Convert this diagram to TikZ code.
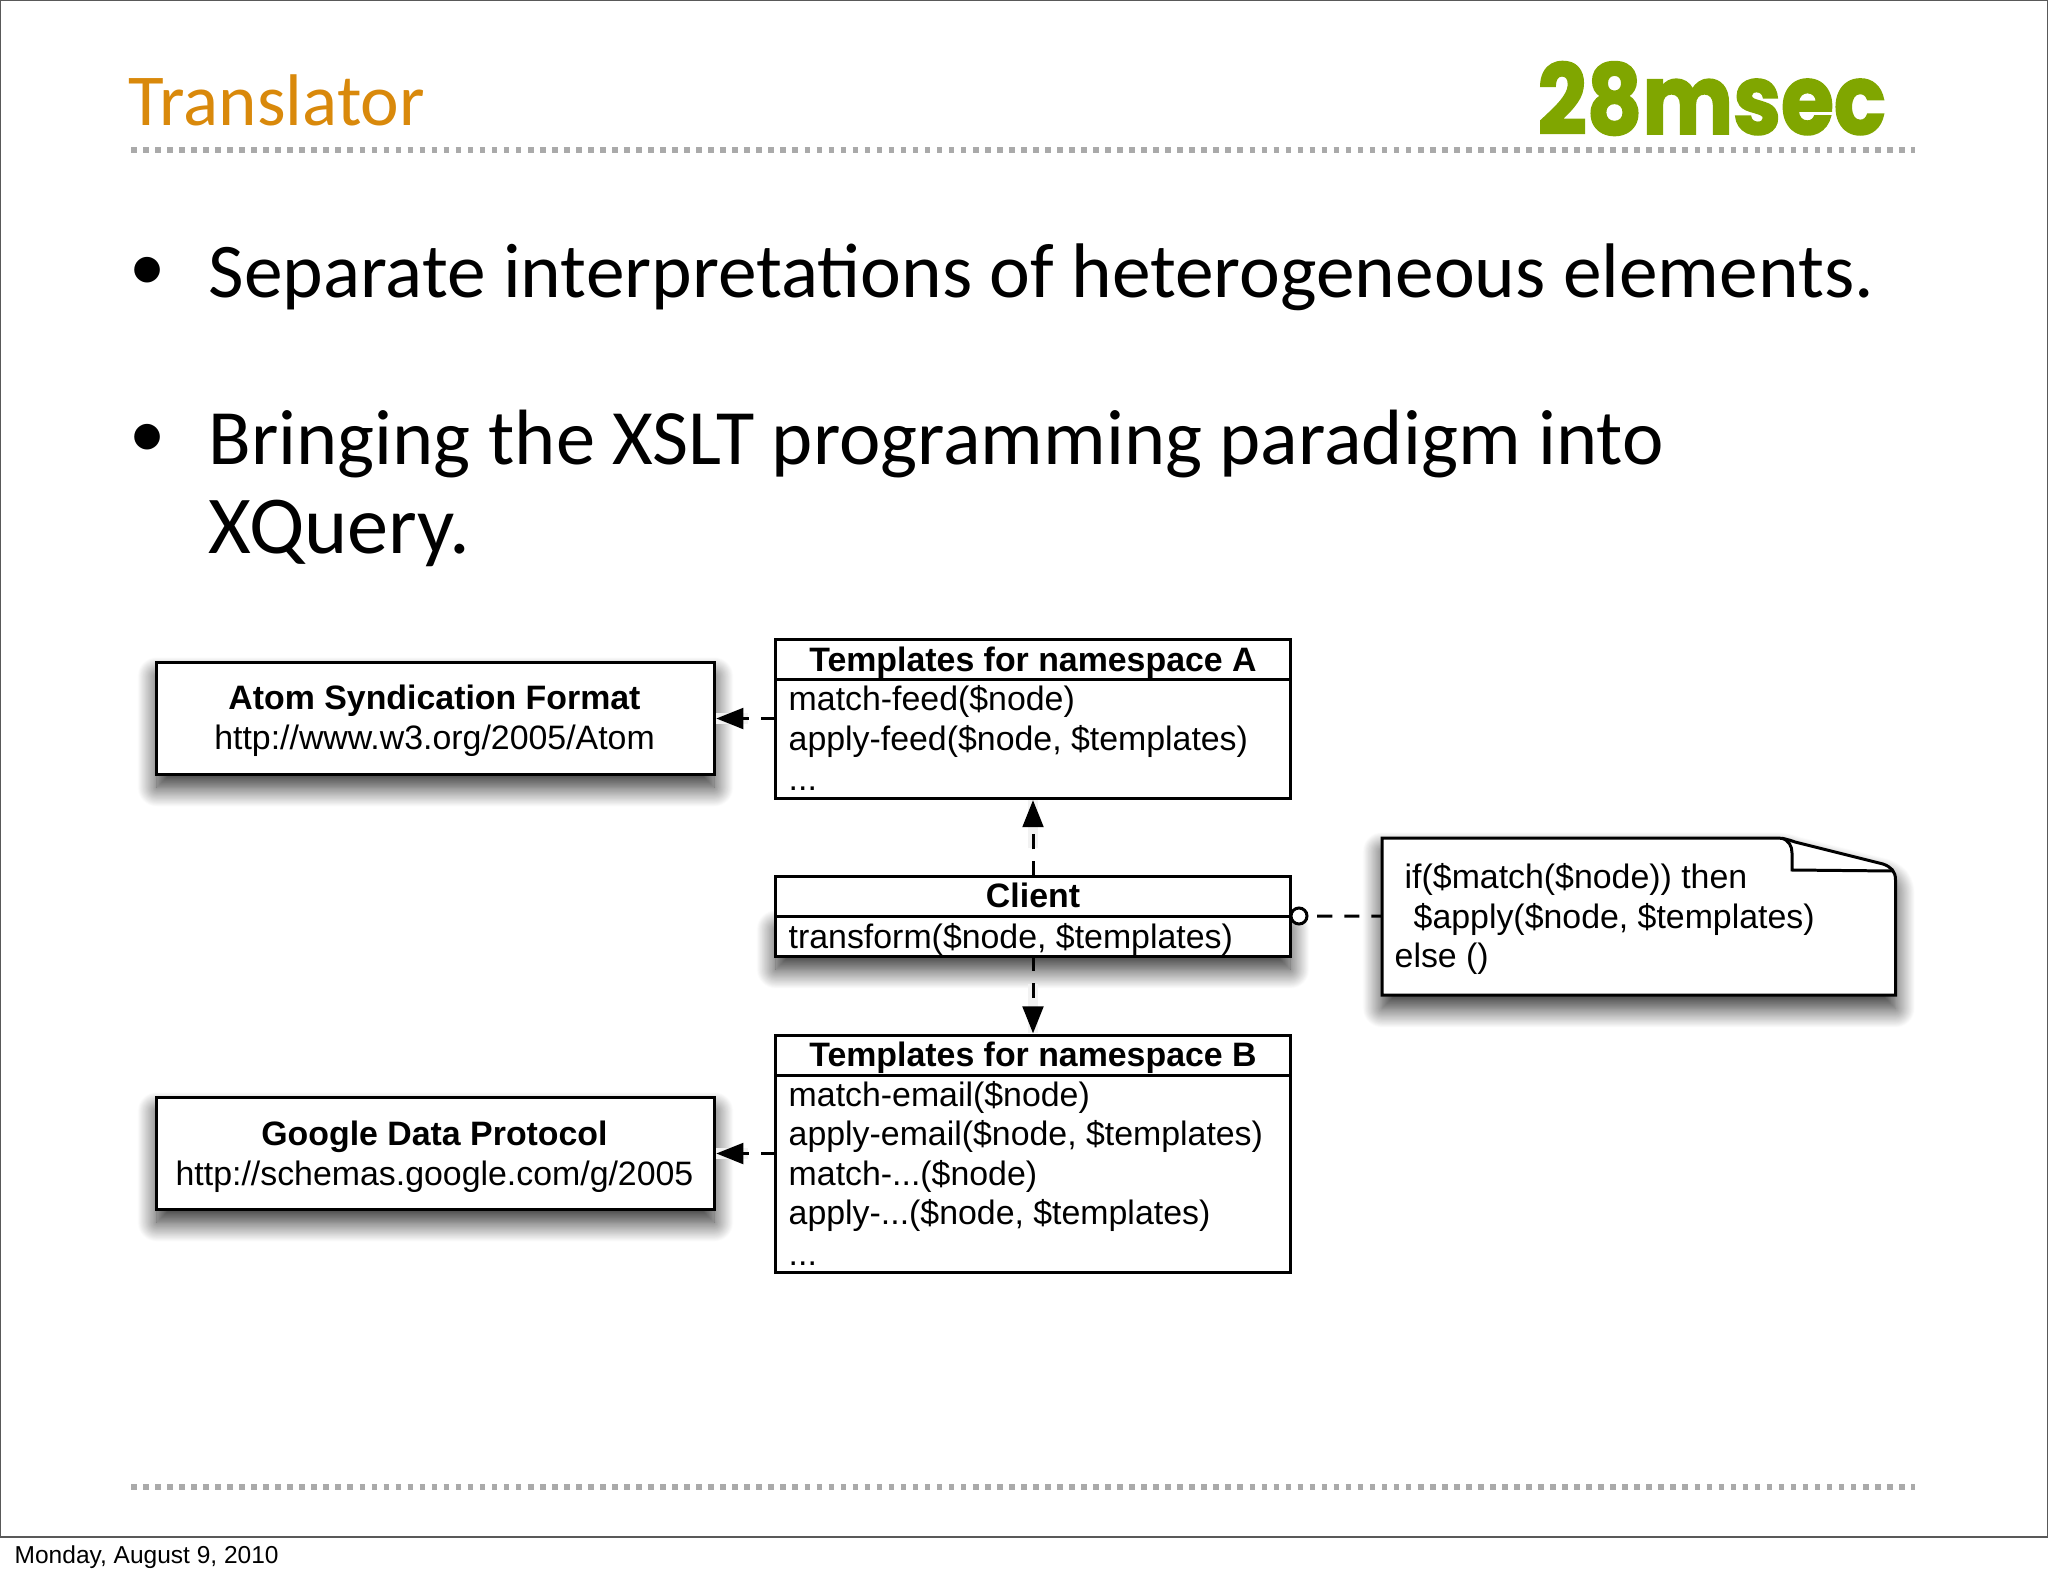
\documentclass[tikz,border=0pt]{standalone}
\usepackage{fontspec}
\setmainfont{Carlito}
\newfontfamily\helv{Liberation Sans}
\newfontfamily\logofont{Poppins}[FakeBold=2]
\usetikzlibrary{shapes,arrows.meta,positioning,shadows.blur}
\definecolor{titleorange}{RGB}{217,137,11}
\definecolor{logogreen}{RGB}{128,166,0}
\definecolor{dotgray}{RGB}{170,170,170}
\newcommand{\diagfont}{\helv\fontsize{9.63}{11.4}\selectfont}
\tikzstyle{softshadow} = [blur shadow={shadow xshift=0pt, shadow yshift=-3.8pt, shadow blur radius=5.5pt, shadow blur steps=25, shadow opacity=85}]
\tikzstyle{ubox} = [rectangle, draw, fill=white, line width=.85pt, inner sep=0pt, outer sep=0pt, minimum width=5.14cm, font=\diagfont]
\tikzstyle{uhead} = [ubox, minimum height=.395cm, font=\diagfont\bfseries, text height=7.5pt, text depth=1.1pt]
\tikzstyle{ubody} = [ubox]
\tikzstyle{sbox} = [ubox, softshadow, minimum width=5.57cm, minimum height=1.11cm]
\tikzstyle{uline} = [anchor=base west, inner sep=0pt, font=\diagfont]
\tikzstyle{cline} = [uline, anchor=base]
\tikzstyle{bullettext} = [anchor=base west, inner sep=0pt, font=\fontsize{22}{26}\selectfont]
\tikzstyle{bulletdot} = [anchor=base west, inner sep=0pt, font=\fontsize{20.6}{24}\selectfont]
\tikzstyle{dotrule} = [draw=dotgray, line width=1.6pt, dash pattern=on 1.6pt off 1.82pt]
\tikzstyle{dep} = [draw, line width=.85pt, dash pattern=on 4.3pt off 3.4pt]
\tikzstyle{deptip} = [dep, shorten >=.6pt, -{Triangle[length=7.7pt,width=5.9pt,color=black,fill=black]},
	preaction={draw=black!5, line width=3pt, solid, shorten <=8pt, -}]

\begin{document}
\begin{tikzpicture}[x=0.01cm, y=-0.01cm]
	\useasboundingbox (0,0) rectangle (2048,1576);
	\path [draw=black!65, line width=.4pt] (0.5,0.5) rectangle (2047.5,1537);

	% heading
	\node [anchor=base west, inner sep=0pt, text=titleorange, font=\fontsize{20.8}{24}\selectfont] (title) at (128,126) {Translator};
	\node [anchor=base west, inner sep=0pt, text=logogreen, font=\logofont\bfseries\fontsize{24.4}{28}\selectfont] (logo) at (1537,134) {\scalebox{1}[1.13]{28msec}};
	\coordinate (rule1a) at (131,150);
	\coordinate (rule1b) at (1915,150);
	\coordinate (rule2a) at (131,1487);
	\coordinate (rule2b) at (1915,1487);
	\path [dotrule] (rule1a) -- (rule1b);
	\path [dotrule] (rule2a) -- (rule2b);

	% bullets
	\node [bulletdot] (dot1) at (129,291) {•};
	\node [bulletdot] (dot2) at (129,457) {•};
	\node [bullettext] (text1) at (208,297.5) {Separate interpretations of heterogeneous elements.};
	\node [bullettext, font=\fontsize{22.3}{26}\selectfont] (text2) at (208,464.5) {Bringing the XSLT programming paradigm into};
	\node [bullettext, font=\fontsize{23.4}{26}\selectfont] (text3) at (208,553.5) {XQuery.};

	% boxes
	\node [sbox] (atom) at (435.5,718.5) {};
	\node [sbox] (google) at (435.5,1153.5) {};
	\node [cline, font=\diagfont\bfseries] (atom1) at (434.5,709) {Atom Syndication Format};
	\node [cline] (atom2) at (434.5,749) {http://www.w3.org/2005/Atom};
	\node [cline, font=\diagfont\bfseries] (google1) at (434.5,1145) {Google Data Protocol};
	\node [cline] (google2) at (434.5,1185) {http://schemas.google.com/g/2005};

	\node [ubody, minimum height=1.19cm] (abody) at (1033,738.5) {};
	\node [uhead] (ahead) at (1033,659.75) {Templates for namespace A};
	\node [ubody, softshadow, minimum height=.40cm] (cbody) at (1033,936) {};
	\node [uhead] (chead) at (1033,896.25) {Client};
	\node [ubody, minimum height=1.96cm] (bbody) at (1033,1174) {};
	\node [uhead] (bhead) at (1033,1055.25) {Templates for namespace B};

	% note
	\path [draw, fill=white, line width=.85pt, softshadow] (1382,838) -- (1775,838)
		.. controls (1782,838) and (1787,839) .. (1795,842) -- (1883,864)
		.. controls (1891,867) and (1895.5,871) .. (1895.5,880) -- (1895.5,995) -- (1382,995) -- cycle;
	\path [draw, line width=.85pt] (1782,838) .. controls (1789,841) and (1792,846) .. (1792,853) -- (1792,870) -- (1893,871);
	\coordinate (notewest) at (1382,916);

	% box text
	\node [uline] (a1) at (788,710) {match-feed(\$node)};
	\node [uline] (a2) at (788,750) {apply-feed(\$node, \$templates)};
	\node [uline] (a3) at (788,790) {...};
	\node [uline] (c1) at (788,948) {transform(\$node, \$templates)};
	\node [uline] (b1) at (788,1106) {match-email(\$node)};
	\node [uline] (b2) at (788,1145) {apply-email(\$node, \$templates)};
	\node [uline] (b3) at (788,1185) {match-...(\$node)};
	\node [uline] (b4) at (788,1224) {apply-...(\$node, \$templates)};
	\node [uline] (b5) at (788,1265) {...};
	\node [uline] (n1) at (1404,888) {if(\$match(\$node)) then};
	\node [uline] (n2) at (1413,928) {\$apply(\$node, \$templates)};
	\node [uline] (n3) at (1394,967) {else ()};

	% connectors
	\path [deptip] (abody.west |- atom.east) -- (atom.east);
	\path [deptip] (bbody.west |- google.east) -- (google.east);
	\path [deptip] (chead.north) -- (abody.south);
	\path [deptip] (cbody.south) -- (bhead.north);
	\path [dep] (chead.south east) -- (notewest);
	\node [circle, draw, fill=white, line width=.85pt, inner sep=0pt, minimum size=.16cm] (clientdot) at (1299,916) {};

	% footer
	\node [anchor=base west, inner sep=0pt, font=\helv\fontsize{6.97}{8}\selectfont] (footer) at (14,1563) {Monday, August 9, 2010};
\end{tikzpicture}
\end{document}
